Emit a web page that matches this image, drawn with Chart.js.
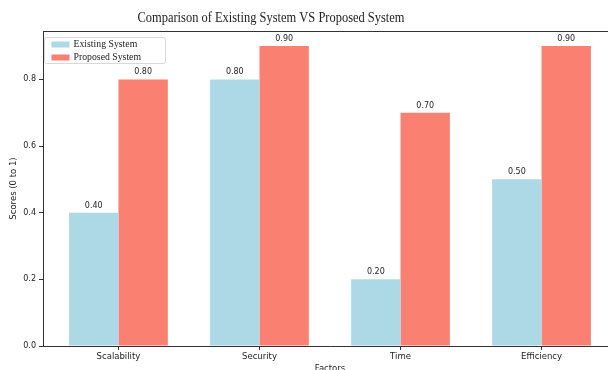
<!DOCTYPE html>
<html>
<head>
<meta charset="utf-8">
<script src="https://cdn.jsdelivr.net/npm/chart.js@4.4.1/dist/chart.umd.min.js"></script>
<style>
html,body{margin:0;padding:0;background:#fff;overflow:hidden;width:608px;height:370px;}
#wrap{position:absolute;left:0;top:0;width:626px;height:374px;}
</style>
</head>
<body>
<div id="wrap"><canvas id="c" width="626" height="374"></canvas></div>
<script>
const titleText = 'Comparison of Existing System VS Proposed System';
const categories = ['Scalability', 'Security', 'Time', 'Efficiency'];
const existingLabel = 'Existing System';
const proposedLabel = 'Proposed System';
const existingValues = [0.40, 0.80, 0.20, 0.50];
const proposedValues = [0.80, 0.90, 0.70, 0.90];
const yTicks = [0.0, 0.2, 0.4, 0.6, 0.8];
const xAxisTitle = 'Factors';
const yAxisTitle = 'Scores (0 to 1)';

const BLUE = '#add8e6';
const RED = '#fa8072';
const AXIS = '#333333';
const SANS = '"DejaVu Sans", sans-serif';
const SERIF = '"Liberation Serif", "DejaVu Serif", serif';

const decor = {
  id: 'decor',
  afterDraw(chart) {
    const ctx = chart.ctx;
    const a = chart.chartArea;
    ctx.save();
    // top spine
    ctx.strokeStyle = AXIS;
    ctx.lineWidth = 1;
    ctx.beginPath();
    ctx.moveTo(a.left, a.top + 0.5);
    ctx.lineTo(a.right, a.top + 0.5);
    ctx.stroke();
    // title (horizontally condensed like the reference)
    ctx.save();
    ctx.fillStyle = '#222';
    ctx.font = '15px ' + SERIF;
    ctx.textAlign = 'center';
    ctx.textBaseline = 'middle';
    ctx.translate(271, 18);
    ctx.scale(0.83, 1);
    ctx.fillText(titleText, 0, 0);
    ctx.restore();
    // value labels
    ctx.fillStyle = '#222';
    ctx.font = '8px ' + SANS;
    ctx.textAlign = 'center';
    ctx.textBaseline = 'bottom';
    chart.data.datasets.forEach((ds, di) => {
      const meta = chart.getDatasetMeta(di);
      meta.data.forEach((el, i) => {
        ctx.fillText(ds.data[i].y.toFixed(2), el.x, el.y - 3);
      });
    });
    // legend
    const lx = a.left + 1.5, ly = a.top + 6.5, lw = 121, lh = 26;
    ctx.fillStyle = 'rgba(255,255,255,0.85)';
    ctx.strokeStyle = '#d8d8d8';
    ctx.beginPath();
    ctx.roundRect(lx, ly, lw, lh, 2);
    ctx.fill();
    ctx.stroke();
    ctx.font = '10.5px ' + SERIF;
    ctx.textAlign = 'left';
    ctx.textBaseline = 'middle';
    chart.data.datasets.forEach((ds, di) => {
      const yy = ly + 7 + di * 13;
      ctx.fillStyle = ds.backgroundColor;
      ctx.fillRect(lx + 7, yy - 3, 18, 6);
      ctx.fillStyle = '#222';
      ctx.save();
      ctx.translate(lx + 29, yy);
      ctx.scale(0.93, 1);
      ctx.fillText(ds.label, 0, 0);
      ctx.restore();
    });
    ctx.restore();
  }
};

new Chart(document.getElementById('c'), {
  type: 'bar',
  data: {
    datasets: [
      { label: existingLabel, backgroundColor: BLUE,
        data: categories.map((c, i) => ({ x: i, y: existingValues[i] })) },
      { label: proposedLabel, backgroundColor: RED,
        data: categories.map((c, i) => ({ x: i, y: proposedValues[i] })) }
    ]
  },
  options: {
    responsive: false,
    animation: false,
    events: [],
    layout: { padding: { left: 0, right: 9, top: 31, bottom: 0 } },
    datasets: { bar: { categoryPercentage: 0.7, barPercentage: 1.0, borderWidth: 0 } },
    plugins: { legend: { display: false }, title: { display: false }, tooltip: { enabled: false } },
    scales: {
      x: {
        type: 'linear',
        offset: false,
        min: -0.535, max: 3.535,
        afterBuildTicks: (s) => { s.ticks = categories.map((c, i) => ({ value: i })); },
        afterFit: (s) => { s.height = 28; },
        ticks: { callback: (v) => categories[v], color: '#222', font: { family: SANS, size: 8.5 }, padding: 2, maxRotation: 0, autoSkip: false },
        grid: { offset: false, drawOnChartArea: false, tickLength: 4, color: AXIS },
        border: { display: true, color: AXIS, width: 1 },
        title: { display: true, text: xAxisTitle, color: '#222', font: { family: SANS, size: 8.5 }, padding: { top: 4, bottom: 0 } }
      },
      y: {
        min: 0, max: 0.9452,
        afterBuildTicks: (s) => { s.ticks = yTicks.map(v => ({ value: v })); },
        afterFit: (s) => { s.width = 43; },
        ticks: { callback: (v) => v.toFixed(1), color: '#222', font: { family: SANS, size: 8 }, padding: 3 },
        grid: { drawOnChartArea: false, tickLength: 4, color: AXIS },
        border: { display: true, color: AXIS, width: 1 },
        title: { display: true, text: yAxisTitle, color: '#222', font: { family: SANS, size: 8.5 }, padding: { top: 9, bottom: 2 } }
      }
    }
  },
  plugins: [decor]
});
</script>
</body>
</html>
